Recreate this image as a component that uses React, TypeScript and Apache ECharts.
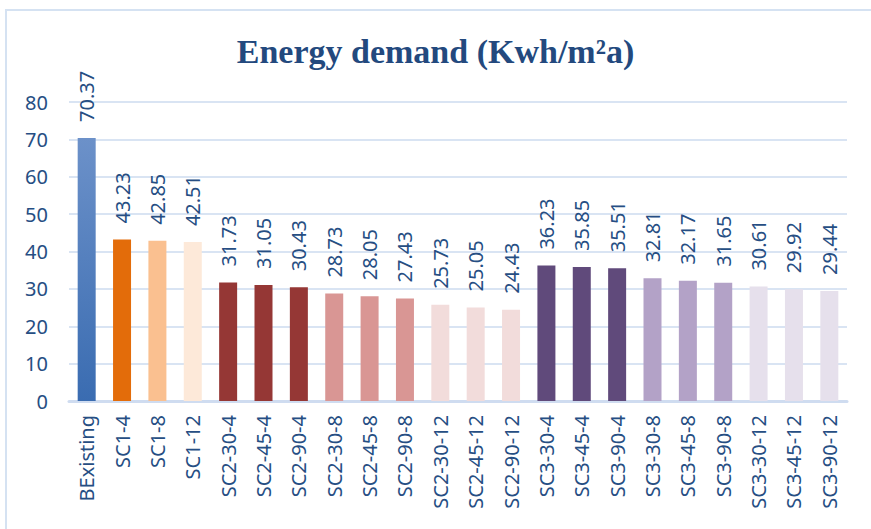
import React, { useEffect, useRef } from "react";
import * as echarts from "echarts";

const categories = [
  "BExisting", "SC1-4", "SC1-8", "SC1-12",
  "SC2-30-4", "SC2-45-4", "SC2-90-4", "SC2-30-8", "SC2-45-8", "SC2-90-8",
  "SC2-30-12", "SC2-45-12", "SC2-90-12",
  "SC3-30-4", "SC3-45-4", "SC3-90-4", "SC3-30-8", "SC3-45-8", "SC3-90-8",
  "SC3-30-12", "SC3-45-12", "SC3-90-12",
];
const values = [
  70.37, 43.23, 42.85, 42.51,
  31.73, 31.05, 30.43, 28.73, 28.05, 27.43, 25.73, 25.05, 24.43,
  36.23, 35.85, 35.51, 32.81, 32.17, 31.65, 30.61, 29.92, 29.44,
];
const barColors = [
  "gradient",
  "#e36c0a", "#fac090", "#fde9d9",
  "#953735", "#953735", "#953735", "#d99694", "#d99694", "#d99694", "#f2dcdb", "#f2dcdb", "#f2dcdb",
  "#604a7b", "#604a7b", "#604a7b", "#b3a2c7", "#b3a2c7", "#b3a2c7", "#e6e0ec", "#e6e0ec", "#e6e0ec",
];
const yTicks = { min: 0, max: 80, interval: 10 };
const title = "Energy demand (Kwh/m²a)";

const textColor = "#264e83";
const font = "'Noto Sans', sans-serif";

export default function App() {
  const ref = useRef<HTMLDivElement>(null);
  useEffect(() => {
    if (!ref.current) return;
    const chart = echarts.init(ref.current, null, { renderer: "svg" });
    const data = values.map((v, i) => ({
      value: v,
      itemStyle: {
        color:
          barColors[i] === "gradient"
            ? new echarts.graphic.LinearGradient(0, 0, 0, 1, [
                { offset: 0, color: "#6c91c9" },
                { offset: 1, color: "#3a6cb1" },
              ])
            : barColors[i],
      },
    }));
    chart.setOption({
      animation: false,
      backgroundColor: "#ffffff",
      graphic: [
        {
          type: "rect",
          shape: { x: 6, y: 10, width: 900, height: 600 },
          style: { fill: "none", stroke: "#d5e2f2", lineWidth: 2 },
          silent: true,
        },
      ],
      title: {
        text: title,
        left: "center",
        top: 29,
        textStyle: {
          fontFamily: "'Liberation Serif', 'Times New Roman', serif",
          fontWeight: "bold",
          fontSize: 34,
          color: "#23497e",
        },
      },
      grid: { left: 69, right: 24, top: 102, bottom: 128 },
      xAxis: {
        type: "category",
        data: categories,
        axisLine: { lineStyle: { color: "#cfdcf0", width: 3 } },
        axisTick: { show: false },
        axisLabel: {
          rotate: 90,
          interval: 0,
          color: textColor,
          fontFamily: font,
          fontSize: 20,
          margin: 14,
        },
      },
      yAxis: {
        type: "value",
        min: yTicks.min,
        max: yTicks.max,
        interval: yTicks.interval,
        axisLine: { show: false },
        axisTick: { show: false },
        splitLine: { lineStyle: { color: "#d9e4f3", width: 2 } },
        axisLabel: {
          color: textColor,
          fontFamily: font,
          fontSize: 20,
          margin: 21,
        },
      },
      series: [
        {
          type: "bar",
          data,
          barWidth: 18,
          label: {
            show: true,
            position: "top",
            rotate: 90,
            align: "left",
            verticalAlign: "middle",
            distance: 16,
            color: textColor,
            fontFamily: font,
            fontSize: 20,
          },
        },
      ],
    });
    return () => chart.dispose();
  }, []);
  return (
    <div
      ref={ref}
      style={{ position: "fixed", left: 0, top: 0, width: 871, height: 529 }}
    />
  );
}
